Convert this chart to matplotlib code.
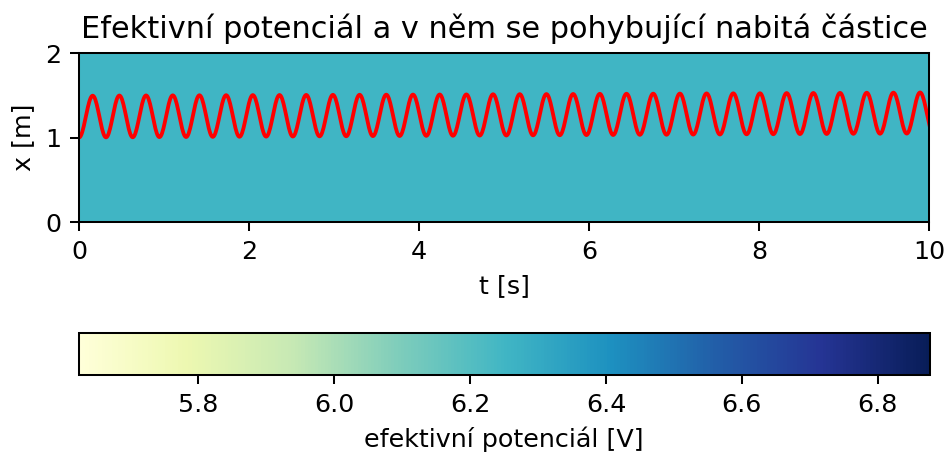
import numpy as np
import matplotlib
matplotlib.use("Agg")
import matplotlib.pyplot as plt

# Effective potential field (appears uniform in the picture)
t_grid = [0.0, 10.0]
x_grid = [0.0, 2.0]
potential = [[6.25]]
pot_min, pot_max = 5.624, 6.876

# Extrema of the particle trajectory
t_peaks = [0.161, 0.475, 0.789, 1.103, 1.417, 1.731, 2.045, 2.359, 2.673, 2.987,
           3.301, 3.615, 3.929, 4.243, 4.557, 4.871, 5.185, 5.499, 5.813, 6.127,
           6.441, 6.755, 7.069, 7.383, 7.697, 8.011, 8.325, 8.639, 8.953, 9.267,
           9.581, 9.895]
x_peaks = [1.495, 1.497, 1.498, 1.499, 1.500, 1.501, 1.502, 1.503, 1.504, 1.505,
           1.506, 1.507, 1.508, 1.509, 1.510, 1.512, 1.513, 1.514, 1.515, 1.517,
           1.518, 1.519, 1.520, 1.522, 1.523, 1.524, 1.526, 1.527, 1.528, 1.530,
           1.531, 1.533]
t_troughs = [0.000, 0.318, 0.632, 0.946, 1.260, 1.574, 1.888, 2.202, 2.516, 2.830,
             3.144, 3.458, 3.772, 4.086, 4.400, 4.714, 5.028, 5.342, 5.656, 5.970,
             6.284, 6.598, 6.912, 7.226, 7.540, 7.854, 8.168, 8.482, 8.796, 9.110,
             9.424, 9.738, 10.052]
x_troughs = [1.000, 1.002, 1.003, 1.005, 1.006, 1.008, 1.009, 1.011, 1.012, 1.014,
             1.015, 1.017, 1.018, 1.020, 1.021, 1.023, 1.024, 1.026, 1.027, 1.029,
             1.030, 1.032, 1.033, 1.035, 1.036, 1.038, 1.039, 1.041, 1.042, 1.044,
             1.045, 1.047, 1.048]

# Merge extrema in time order and join them with smooth half-cosine arcs
ext = sorted(zip(t_peaks + t_troughs, x_peaks + x_troughs))
t_line, x_line = [], []
for (t0, x0), (t1, x1) in zip(ext[:-1], ext[1:]):
    s = np.linspace(0, 1, 20, endpoint=False)
    t_line.extend(t0 + (t1 - t0) * s)
    x_line.extend(x0 + (x1 - x0) * (1 - np.cos(np.pi * s)) / 2)
t_line.append(ext[-1][0])
x_line.append(ext[-1][1])

dpi = 182.5
fig = plt.figure(figsize=(945 / dpi, 452 / dpi), dpi=dpi)
ax = fig.add_axes([0.0836, 0.5088, 0.8995, 0.3739])
cax = fig.add_axes([0.0831, 0.1704, 0.9005, 0.0929])

mesh = ax.pcolormesh(t_grid, x_grid, potential, cmap="YlGnBu",
                     vmin=pot_min, vmax=pot_max)
ax.plot(t_line, x_line, color="red")
ax.set_xlim(0, 10)
ax.set_ylim(0, 2)
ax.set_xticks([0, 2, 4, 6, 8, 10])
ax.set_yticks([0, 1, 2])
ax.set_xlabel("t [s]")
ax.set_ylabel("x [m]")
ax.set_title("Efektivní potenciál a v něm se pohybující nabitá částice")

cb = fig.colorbar(mesh, cax=cax, orientation="horizontal")
cb.set_ticks([5.8, 6.0, 6.2, 6.4, 6.6, 6.8])
cb.set_label("efektivní potenciál [V]")

fig.savefig("out.png", dpi=dpi)
